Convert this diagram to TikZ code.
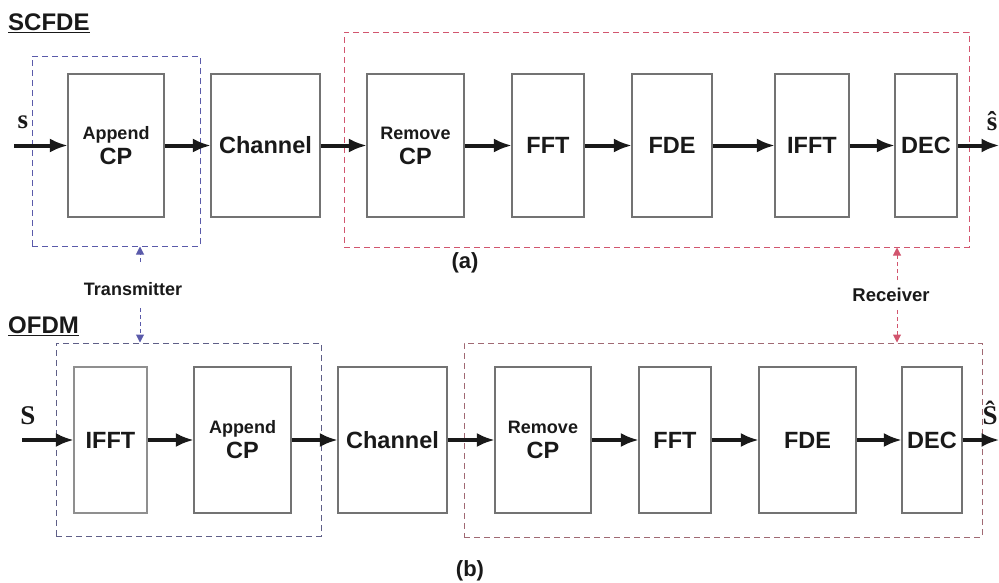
\documentclass[tikz,border=0pt]{standalone}
\usepackage{fontspec}
\setmainfont{Liberation Sans}
\newfontfamily\symfont{Liberation Serif}
\usetikzlibrary{arrows.meta}

\definecolor{boxgray}{RGB}{115,115,115}
\definecolor{txblue}{RGB}{90,90,170}
\definecolor{txblueb}{RGB}{95,95,135}
\definecolor{rxred}{RGB}{210,85,110}
\definecolor{rxredb}{RGB}{160,105,115}
\definecolor{ink}{RGB}{25,25,25}

\tikzset{
  blk/.style={draw=boxgray, line width=1.2pt, inner sep=0pt, text=ink,
    font=\bfseries\fontsize{23.5}{25}\selectfont, align=center},
  grp/.style={draw=#1, line width=1pt, dash pattern=on 6pt off 4pt, inner sep=0pt},
  arr/.style={draw=ink, line width=4pt, -{Latex[length=18pt,width=14pt]}, shorten >=-0.5pt},
  tagarr/.style={draw=#1, line width=1pt, dash pattern=on 4pt off 3pt,
    -{Triangle[length=8pt,width=8pt,fill=#1]}},
  lab/.style={font=\bfseries\fontsize{#1}{#1}\selectfont, inner sep=0pt, text=ink},
  sig/.style={font=\symfont\bfseries\fontsize{27}{27}\selectfont, inner sep=0pt, text=ink}
}
\newcommand{\twoline}[2]{{\fontsize{18}{25}\selectfont #1}\\#2}

\begin{document}
\begin{tikzpicture}[x=1pt, y=-1pt]
\useasboundingbox (0,0) rectangle (999,582);
\clip (0,0) rectangle (999,582);

% ---------- SCFDE chain ----------
\node[lab=24, anchor=west] (scfde) at (8,23) {\underline{SCFDE}};

\node[grp=txblue, minimum width=168pt, minimum height=190pt] (tx1) at (116,151) {};
\node[grp=rxred,  minimum width=625pt, minimum height=215pt] (rx1) at (656.5,139.5) {};

\node[blk, minimum width=96pt,  minimum height=143pt] (acp1)  at (116,145.5)   {\twoline{Append}{CP}};
\node[blk, minimum width=109pt, minimum height=143pt] (ch1)   at (265.5,145.5) {Channel};
\node[blk, minimum width=97pt,  minimum height=143pt] (rcp1)  at (415.5,145.5) {\twoline{Remove}{CP}};
\node[blk, minimum width=72pt,  minimum height=143pt] (fft1)  at (548,145.5)   {FFT};
\node[blk, minimum width=80pt,  minimum height=143pt] (fde1)  at (672,145.5)   {FDE};
\node[blk, minimum width=74pt,  minimum height=143pt] (ifft1) at (812,145.5)   {IFFT};
\node[blk, minimum width=62pt,  minimum height=143pt] (dec1)  at (926,145.5)   {DEC};

\node[sig] (s1)    at (23,122)  {s};
\node[sig] (shat1) at (992,121) {ŝ};
\coordinate (in1)  at (14,145.5);
\coordinate (out1) at (999,145.5);

\draw[arr] (in1)   -- (acp1);
\draw[arr] (acp1)  -- (ch1);
\draw[arr] (ch1)   -- (rcp1);
\draw[arr] (rcp1)  -- (fft1);
\draw[arr] (fft1)  -- (fde1);
\draw[arr] (fde1)  -- (ifft1);
\draw[arr] (ifft1) -- (dec1);
\draw[arr] (dec1)  -- (out1);

\node[lab=22] (capa) at (465,263) {(a)};

% ---------- Transmitter / Receiver tags ----------
\node[lab=18] (txt) at (133,289) {Transmitter};
\node[lab=18.5] (rxt) at (891,295) {Receiver};

% ---------- OFDM chain ----------
\node[lab=24, anchor=west] (ofdm) at (8,326) {\underline{OFDM}};

\node[grp=txblueb, minimum width=265pt, minimum height=193pt] (tx2) at (188.5,439.5) {};
\node[grp=rxredb,  minimum width=518pt, minimum height=194pt] (rx2) at (723,440)   {};

\coordinate (tu) at (140,262);
\coordinate (td) at (140,308);
\coordinate (ru) at (897,280);
\coordinate (rd) at (897,310);
\draw[tagarr=txblue] (tu) -- (tu |- tx1.south);
\draw[tagarr=txblue] (td) -- (td |- tx2.north);
\draw[tagarr=rxred]  (ru) -- (ru |- rx1.south);
\draw[tagarr=rxred]  (rd) -- (rd |- rx2.north);

\node[blk, draw=boxgray!80, minimum width=73pt, minimum height=146pt] (ifft2) at (110.5,440) {IFFT};
\node[blk, minimum width=97pt,  minimum height=146pt] (acp2) at (242.5,440) {\twoline{Append}{CP}};
\node[blk, minimum width=109pt, minimum height=146pt] (ch2)  at (392.5,440) {Channel};
\node[blk, minimum width=96pt,  minimum height=146pt] (rcp2) at (543,440)   {\twoline{Remove}{CP}};
\node[blk, minimum width=72pt,  minimum height=146pt] (fft2) at (675,440)   {FFT};
\node[blk, minimum width=97pt,  minimum height=146pt] (fde2) at (807.5,440) {FDE};
\node[blk, minimum width=60pt,  minimum height=146pt] (dec2) at (932,440)   {DEC};

\node[sig] (s2)    at (28,416)  {S};
\node[sig] (shat2) at (990,413) {Ŝ};
\coordinate (in2)  at (22,440);
\coordinate (out2) at (999,440);

\draw[arr] (in2)  -- (ifft2);
\draw[arr] (ifft2) -- (acp2);
\draw[arr] (acp2) -- (ch2);
\draw[arr] (ch2)  -- (rcp2);
\draw[arr] (rcp2) -- (fft2);
\draw[arr] (fft2) -- (fde2);
\draw[arr] (fde2) -- (dec2);
\draw[arr] (dec2) -- (out2);

\node[lab=22] (capb) at (470,571) {(b)};
\end{tikzpicture}
\end{document}
